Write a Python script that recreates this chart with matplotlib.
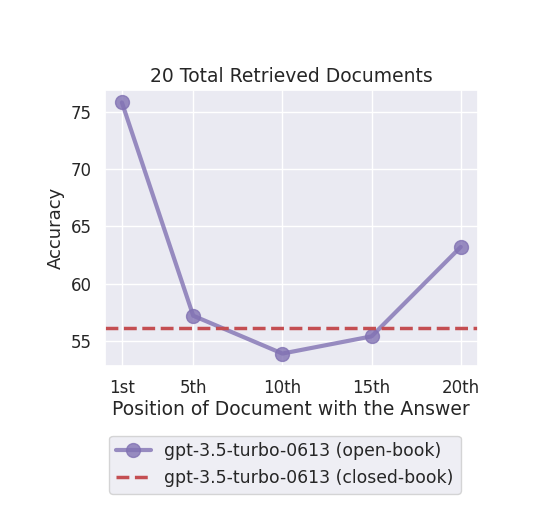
import matplotlib
matplotlib.use("Agg")
import matplotlib.pyplot as plt
import seaborn as sns

positions = [1, 5, 10, 15, 20]
position_labels = ["1st", "5th", "10th", "15th", "20th"]
open_book_acc = [75.8, 57.2, 53.9, 55.4, 63.2]
closed_book_acc = 56.1

sns.set_theme(style="darkgrid")
plt.rcParams["font.family"] = ["DejaVu Sans"]

fig = plt.figure(figsize=(5.41, 5.05), dpi=100)
ax = fig.add_axes([0.194, 0.275, 0.689, 0.547])

ax.plot(positions, open_book_acc, marker="o", color="#8172B3", linewidth=3,
        markersize=10, alpha=0.8, label="gpt-3.5-turbo-0613 (open-book)")
ax.axhline(closed_book_acc, color="#C44E52", linestyle="--", linewidth=2.5,
           label="gpt-3.5-turbo-0613 (closed-book)")

ax.set_xticks(positions)
ax.set_xticklabels(position_labels)
ax.set_yticks([55, 60, 65, 70, 75])
ax.tick_params(labelsize=12)
ax.set_title("20 Total Retrieved Documents", fontsize=13.5)
ax.set_xlabel("Position of Document with the Answer", fontsize=13.5, labelpad=2)
ax.set_ylabel("Accuracy", fontsize=13)

ax.legend(loc="upper center", bbox_to_anchor=(0.483, -0.22), fontsize=12.4,
          frameon=True)

fig.savefig("out.png", dpi=100)
